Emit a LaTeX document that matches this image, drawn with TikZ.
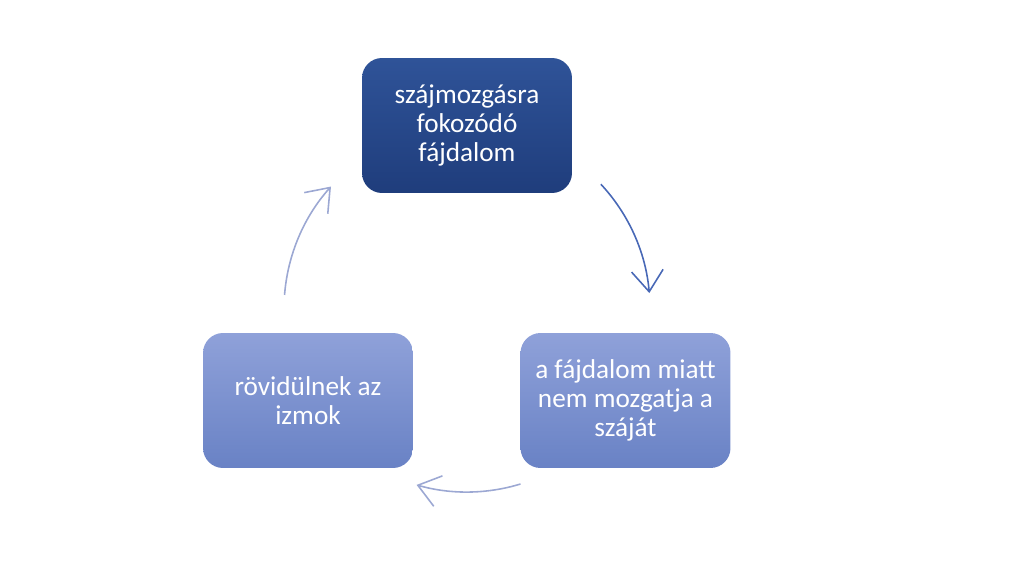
\documentclass[tikz,border=0pt]{standalone}
\usepackage{fontspec}
\setmainfont{Carlito}
\usetikzlibrary{arrows.meta,calc}
\definecolor{darktop}{RGB}{47,83,152}
\definecolor{darkbot}{RGB}{31,61,124}
\definecolor{lighttop}{RGB}{143,161,217}
\definecolor{lightbot}{RGB}{105,130,197}
\definecolor{arrowdark}{RGB}{72,104,182}
\definecolor{arrowlight}{RGB}{156,168,211}
\begin{document}
\begin{tikzpicture}[
		x=0.02cm, y=0.02cm,
			step box/.style = {
				rounded corners = 0.4cm,
				minimum width = 4.2cm,
				minimum height = 2.7cm,
				align = center,
				text = white,
				font = \fontsize{15.5}{16.6}\selectfont
			},
			darkbox/.style = {
				step box,
				top color = darktop,
				bottom color = darkbot
			},
			lightbox/.style = {
				step box,
				top color = lighttop,
				bottom color = lightbot
			},
			cycle arrow/.style = {
				line width = 0.9pt,
				-{Straight Barb[length=12pt, width=18pt, line width=0.9pt]}
			}
		]
		\useasboundingbox (0,0) rectangle (1024,575);
		\node[darkbox]  (pain)  at (467.0,449.5) {szájmozgásra\\fokozódó\\fájdalom};
		\node[lightbox] (still) at (625.5,174.5) {a fájdalom miatt\\nem mozgatja a\\száját};
		\node[lightbox] (short) at (308.0,174.5) {rövidülnek az\\izmok};
		\coordinate (mid) at (467,266);
		\coordinate (a1) at ($(mid)+(43:183)$);
		\coordinate (a2) at ($(mid)+(-73:183)$);
		\coordinate (a3) at ($(mid)+(175.6:183)$);
		\draw[cycle arrow, arrowdark]  (a1) arc[start angle=43,    end angle=5,    radius=183];
		\draw[cycle arrow, arrowlight] (a2) arc[start angle=-73,   end angle=-106, radius=183];
		\draw[cycle arrow, arrowlight] (a3) arc[start angle=175.6, end angle=138,  radius=183];
	\end{tikzpicture}
\end{document}
